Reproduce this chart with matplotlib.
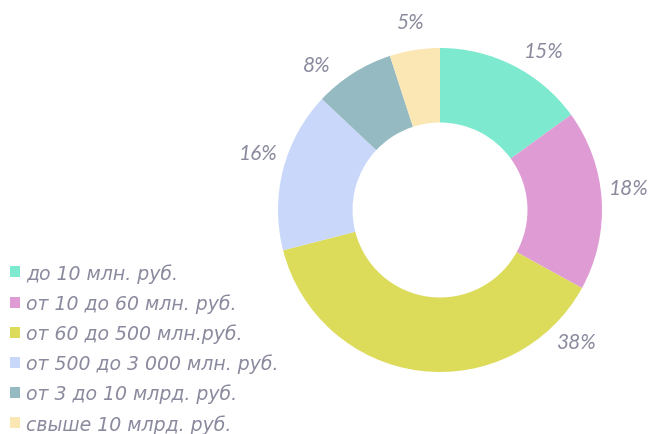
import matplotlib

matplotlib.use("Agg")
import matplotlib.pyplot as plt
import numpy as np
from matplotlib.patches import Patch

categories = [
    "до 10 млн. руб.",
    "от 10 до 60 млн. руб.",
    "от 60 до 500 млн.руб.",
    "от 500 до 3 000 млн. руб.",
    "от 3 до 10 млрд. руб.",
    "свыше 10 млрд. руб.",
]
shares = [15, 18, 38, 16, 8, 5]
colors = ["#7de9cf", "#df9bd4", "#dcdb5a", "#c9d8fa", "#95bac2", "#fbe7b3"]
# label angle tweaks (deg) relative to the wedge middle, as placed in the original
label_shift = [-6, 3, 53, -3, 8, 0]

TEXT = "#8a8a9e"
W, H = 651, 435
CX, CY, R = 440, H - 211, 162

fig = plt.figure(figsize=(W / 100, H / 100), dpi=100)
ax = fig.add_axes([0, 0, 1, 1])
ax.set_xlim(0, W)
ax.set_ylim(0, H)
ax.set_aspect("equal")
ax.axis("off")

wedges, _ = ax.pie(
    shares,
    colors=colors,
    startangle=90,
    counterclock=False,
    center=(CX, CY),
    radius=R,
    wedgeprops=dict(width=R * 0.46, linewidth=0),
)
ax.set_xlim(0, W)
ax.set_ylim(0, H)

total = sum(shares)
start = 90.0
for val, shift in zip(shares, label_shift):
    sweep = 360.0 * val / total
    mid = np.deg2rad(start - sweep / 2 + shift)
    start -= sweep
    ax.text(
        CX + 190 * np.cos(mid),
        CY + 190 * np.sin(mid),
        f"{val}%",
        ha="center",
        va="center",
        fontsize=15,
        style="italic",
        color=TEXT,
        family=["Lato", "DejaVu Sans"],
    )

handles = [Patch(facecolor=c, edgecolor="none") for c in colors]
ax.legend(
    handles,
    categories,
    loc="upper left",
    bbox_to_anchor=(10 / W, 1 - 264 / H),
    frameon=False,
    handlelength=0.52,
    handleheight=0.52,
    handletextpad=0.33,
    labelspacing=0.555,
    borderpad=0,
    borderaxespad=0,
    labelcolor=TEXT,
    prop=dict(family=["DejaVu Sans"], style="italic", size=13.6),
)

fig.savefig("out.png", dpi=100)
